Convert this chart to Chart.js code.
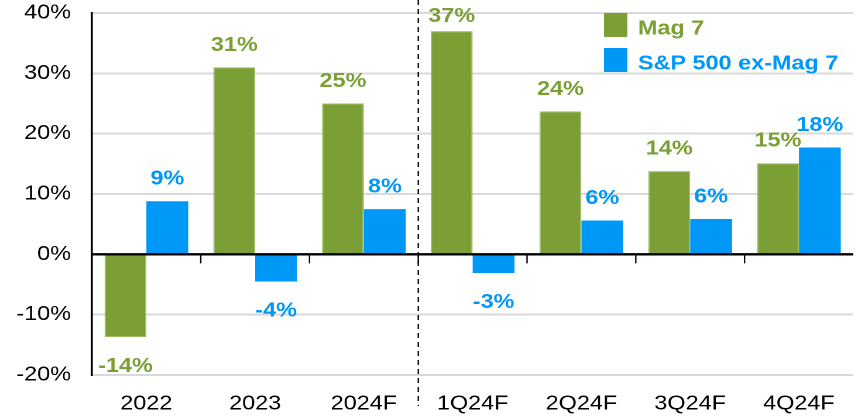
<!DOCTYPE html>
<html>
<head>
<meta charset="utf-8">
<script src="https://cdn.jsdelivr.net/npm/chart.js@4.4.1/dist/chart.umd.min.js"></script>
<style>
  html, body { margin: 0; padding: 0; background: #fff; overflow: hidden; }
  /* the source picture is stretched sideways, so draw narrow and stretch */
  #wrap { width: 733px; height: 416px; transform: scaleX(1.1705); transform-origin: 0 0; }
</style>
</head>
<body>
<div id="wrap"><canvas id="chart"></canvas></div>
<script>
/* ---------- DATA ---------- */

const categories = ["2022", "2023", "2024F", "1Q24F", "2Q24F", "3Q24F", "4Q24F"];
const mag7 = [-13.7, 31.0, 25.0, 37.0, 23.7, 13.8, 15.1];
const exMag7 = [8.8, -4.5, 7.5, -3.1, 5.6, 5.85, 17.7];
const mag7Labels = ["-14%", "31%", "25%", "37%", "24%", "14%", "15%"];
const exMag7Labels = ["9%", "-4%", "8%", "-3%", "6%", "6%", "18%"];
const yTicks = [-20, -10, 0, 10, 20, 30, 40];
const seriesNames = ["Mag 7", "S&P 500 ex-Mag 7"];
const splitAfter = 2; // dashed divider after 2024F

const GREEN = "#7B9F34";
const BLUE = "#0098F7";
const FONT = '"Liberation Sans", Arial, sans-serif';

/* ---------- EXTRAS: zero line, divider, labels, legend ---------- */

const extras = {
    id: "extras",
    afterDatasetsDraw(chart) {
        const { ctx, chartArea, scales: { x, y } } = chart;
        const zero = y.getPixelForValue(0);
        ctx.save();

        // zero line + small ticks between categories
        ctx.strokeStyle = "#000";
        ctx.lineWidth = 2.3;
        ctx.beginPath();
        ctx.moveTo(chartArea.left, zero);
        ctx.lineTo(chartArea.right, zero);
        ctx.stroke();
        ctx.lineWidth = 1.2;
        for (let i = 1; i < categories.length; i++) {
            const bx = (x.getPixelForValue(i - 1) + x.getPixelForValue(i)) / 2;
            ctx.beginPath();
            ctx.moveTo(bx, zero);
            ctx.lineTo(bx, zero + 9);
            ctx.stroke();
        }

        // dashed divider
        const dx = (x.getPixelForValue(splitAfter) + x.getPixelForValue(splitAfter + 1)) / 2;
        ctx.setLineDash([5, 4]);
        ctx.lineWidth = 1.2;
        ctx.beginPath();
        ctx.moveTo(dx, 0);
        ctx.lineTo(dx, 406);
        ctx.stroke();
        ctx.setLineDash([]);

        // value labels (kept inside the top of the plot)
        const labels = [mag7Labels, exMag7Labels];
        const colors = [GREEN, BLUE];
        ctx.font = "bold 20px " + FONT;
        ctx.textAlign = "center";
        ctx.textBaseline = "alphabetic";
        chart.data.datasets.forEach((ds, di) => {
            ctx.fillStyle = colors[di];
            chart.getDatasetMeta(di).data.forEach((bar, i) => {
                const yy = ds.data[i] >= 0 ? Math.max(bar.y - 16.5, 22) : bar.y + 35;
                ctx.fillText(labels[di][i], bar.x, yy);
            });
        });

        // legend
        ctx.textAlign = "left";
        seriesNames.forEach((name, i) => {
            const top = 13 + i * 35;
            ctx.fillStyle = colors[i];
            ctx.fillRect(516, top, 20, 24);
            ctx.fillText(name, 545, top + 21.5);
        });

        ctx.restore();
    }
};

/* ---------- CHART ---------- */

new Chart(document.getElementById("chart"), {
    type: "bar",
    data: {
        labels: categories,
        datasets: [
            { label: seriesNames[0], data: mag7, backgroundColor: GREEN, borderColor: "#9CBB63", borderWidth: 1 },
            { label: seriesNames[1], data: exMag7, backgroundColor: BLUE }
        ]
    },
    options: {
        responsive: true,
        maintainAspectRatio: false,
        animation: false,
        devicePixelRatio: 2,
        layout: { padding: { left: 14.6, right: 4, top: 13, bottom: 0 } },
        datasets: { bar: { categoryPercentage: 0.77, barPercentage: 1 } },
        plugins: {
            legend: { display: false },
            tooltip: { enabled: false }
        },
        scales: {
            x: {
                grid: { display: false },
                border: { display: false },
                ticks: { color: "#000", font: { family: FONT, size: 20 }, padding: 9, maxRotation: 0 },
                afterFit(s) { s.height = 41; s.paddingLeft = 0; s.paddingRight = 0; }
            },
            y: {
                min: -20,
                max: 40,
                afterBuildTicks(s) { s.ticks = yTicks.map(v => ({ value: v })); },
                afterFit(s) { s.width = 64; s.paddingTop = 0; s.paddingBottom = 0; },
                border: { display: true, color: "#000", width: 1.8 },
                grid: {
                    drawTicks: false,
                    color: c => (c.tick && c.tick.value === 0 ? "rgba(0,0,0,0)" : "#D9D9D9"),
                    lineWidth: 2
                },
                ticks: {
                    color: "#000",
                    padding: 18,
                    font: { family: FONT, size: 20 },
                    callback: v => v + "%"
                }
            }
        }
    },
    plugins: [extras]
});
</script>
</body>
</html>
